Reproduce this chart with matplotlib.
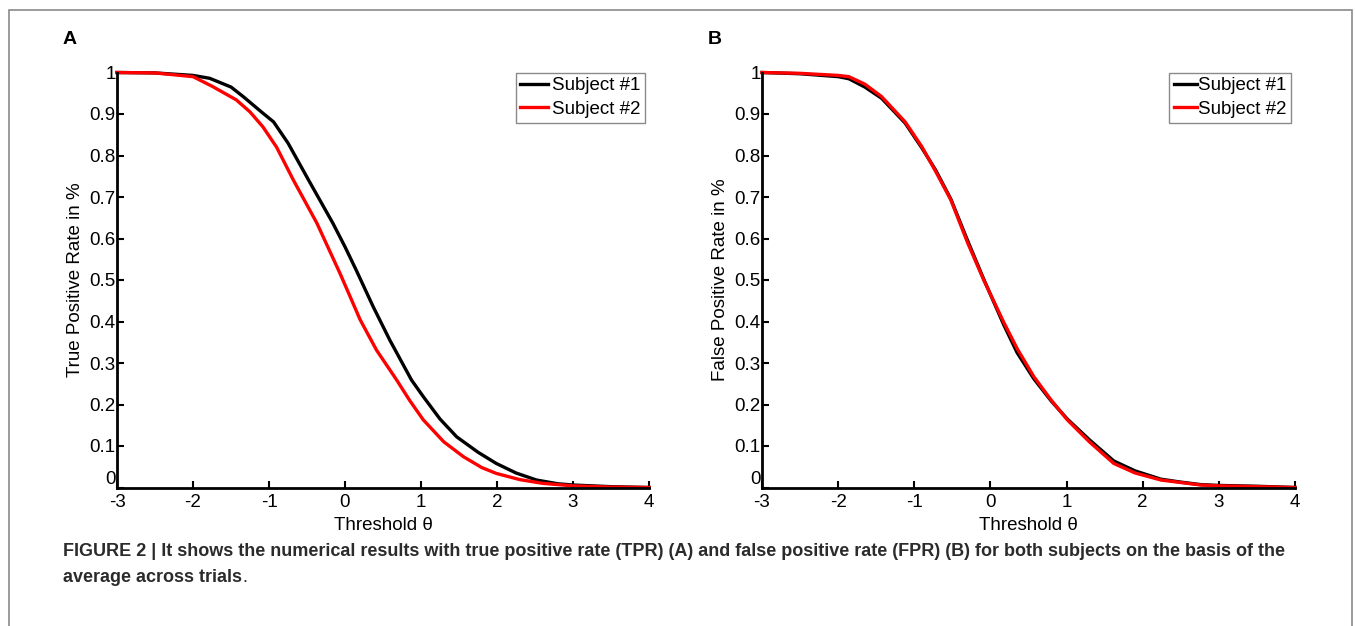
import matplotlib
matplotlib.use("Agg")
import matplotlib.pyplot as plt
from matplotlib.patches import Rectangle

plt.rcParams.update({
    "font.family": ["Liberation Sans", "DejaVu Sans"],
    "axes.unicode_minus": False,
})

# panel A: true positive rate
tpr_x1 = [-3, -2.5, -2.0, -1.78, -1.5, -1.34, -1.1, -0.94, -0.75, -0.48, -0.16, 0.0, 0.147, 0.37,
          0.59, 0.875, 1.03, 1.25, 1.47, 1.75, 1.99, 2.25, 2.52, 2.8, 3.0, 3.5, 4.0]
tpr_y1 = [1.0, 0.999, 0.993, 0.986, 0.965, 0.942, 0.905, 0.881, 0.83, 0.741, 0.637, 0.58, 0.524, 0.436,
          0.355, 0.259, 0.219, 0.165, 0.122, 0.085, 0.058, 0.035, 0.018, 0.009, 0.006, 0.002, 0.0]
tpr_x2 = [-3, -2.5, -2.0, -1.75, -1.43, -1.25, -1.08, -0.9, -0.68, -0.37, -0.066, 0.2, 0.415,
          0.68, 0.85, 1.03, 1.3, 1.56, 1.8, 1.99, 2.3, 2.6, 3.0, 3.5, 4.0]
tpr_y2 = [1.0, 0.999, 0.99, 0.967, 0.934, 0.905, 0.869, 0.82, 0.741, 0.637, 0.516, 0.404, 0.331,
          0.259, 0.21, 0.163, 0.11, 0.074, 0.048, 0.034, 0.019, 0.010, 0.004, 0.001, 0.0]

# panel B: false positive rate
fpr_x = [-3, -2.5, -2.0, -1.86, -1.65, -1.43, -1.12, -0.90, -0.72, -0.52, -0.3, -0.088, 0.175,
         0.35, 0.57, 0.8, 1.01, 1.3, 1.62, 1.9, 2.24, 2.5, 2.76, 3.0, 3.5, 4.0]
fpr_y1 = [1.0, 0.997, 0.99, 0.985, 0.965, 0.938, 0.878, 0.818, 0.765, 0.695, 0.595, 0.502, 0.392,
          0.325, 0.262, 0.208, 0.165, 0.115, 0.064, 0.04, 0.02, 0.013, 0.007, 0.005, 0.003, 0.0]
fpr_y2 = [1.0, 0.998, 0.993, 0.99, 0.972, 0.942, 0.881, 0.821, 0.762, 0.693, 0.59, 0.5, 0.398,
          0.335, 0.267, 0.21, 0.163, 0.11, 0.058, 0.035, 0.018, 0.012, 0.006, 0.004, 0.002, 0.0]

labels = ["Subject #1", "Subject #2"]
xticks = [-3, -2, -1, 0, 1, 2, 3, 4]
yticks = [0, 0.1, 0.2, 0.3, 0.4, 0.5, 0.6, 0.7, 0.8, 0.9, 1]
ytick_labels = ["0", "0.1", "0.2", "0.3", "0.4", "0.5", "0.6", "0.7", "0.8", "0.9", "1"]

FS = 13.5
fig = plt.figure(figsize=(13.55, 6.26), dpi=100)
fig.patch.set_facecolor("white")

# outer frame of the figure box
fig.add_artist(Rectangle((8.5 / 1355, -0.05), (1352 - 8.5) / 1355, 1.05 - 10 / 626,
                         transform=fig.transFigure, fill=False, ec="#8a8a8a", lw=1.2))

axA = fig.add_axes([117 / 1355, 1 - 487.5 / 626, 532 / 1355, 415 / 626])
axB = fig.add_axes([762 / 1355, 1 - 487.5 / 626, 533 / 1355, 415 / 626])

panels = [
    (axA, [(tpr_x1, tpr_y1), (tpr_x2, tpr_y2)], "True Positive Rate in %", 1.5, 0.2),
    (axB, [(fpr_x, fpr_y1), (fpr_x, fpr_y2)], "False Positive Rate in %", 1.25, 0.05),
]
for ax, series, ylab, hlen, hpad in panels:
    for (xs, ys), col, lab in zip(series, ["black", "#ff0000"], labels):
        ax.plot(xs, ys, color=col, lw=2.4, label=lab, clip_on=False)
    ax.set_xlim(-3, 4)
    ax.set_ylim(0, 1)
    ax.set_xticks(xticks)
    ax.set_xticklabels([str(t) for t in xticks], fontsize=FS)
    ax.set_yticks(yticks)
    ax.set_yticklabels(ytick_labels, fontsize=FS)
    # sit the "0" label on the axis line so it clears the "-3" below it
    ax.yaxis.get_major_ticks()[0].label1.set_verticalalignment("bottom")
    for s in ["top", "right"]:
        ax.spines[s].set_visible(False)
    for s in ["left", "bottom"]:
        ax.spines[s].set_linewidth(2.0)
    ax.tick_params(direction="in", length=5, width=1.5)
    ax.tick_params(axis="x", pad=5)
    ax.tick_params(axis="y", pad=1)
    ax.set_xlabel("Threshold \u03b8", fontsize=FS, labelpad=4)
    ax.set_ylabel(ylab, fontsize=FS, labelpad=4)
    leg = ax.legend(loc="upper right", bbox_to_anchor=(0.993, 1.0), borderaxespad=0,
                    fontsize=FS, handlelength=hlen, handletextpad=hpad, borderpad=0.25,
                    labelspacing=0.35, fancybox=False, framealpha=1)
    leg.get_frame().set_edgecolor("#8a8a8a")
    leg.get_frame().set_linewidth(1.0)

fig.text(63 / 1355, 1 - 40 / 626, "A", fontsize=14, fontweight="bold", va="center")
fig.text(708 / 1355, 1 - 40 / 626, "B", fontsize=14, fontweight="bold", va="center")

CAP = "#2b2b2b"
cap1 = fig.text(63 / 1355, 1 - 551 / 626,
                "FIGURE 2 | It shows the numerical results with true positive rate (TPR) (A) and false "
                "positive rate (FPR) (B) for both subjects on the basis of the",
                fontsize=13, fontweight="bold", color=CAP, va="center")
fig.canvas.draw()
w = cap1.get_window_extent().width
cfs = 13 * (1280 - 63) / w
cap1.set_fontsize(cfs)
t = fig.text(63 / 1355, 1 - 578 / 626, "average across trials", fontsize=cfs,
             fontweight="bold", color=CAP, va="center")
fig.canvas.draw()
bb = t.get_window_extent()
fig.text(bb.x1 / fig.bbox.width, 1 - 578 / 626, ".", fontsize=cfs, color=CAP, va="center")

fig.savefig("out.png", dpi=100, facecolor="white")
